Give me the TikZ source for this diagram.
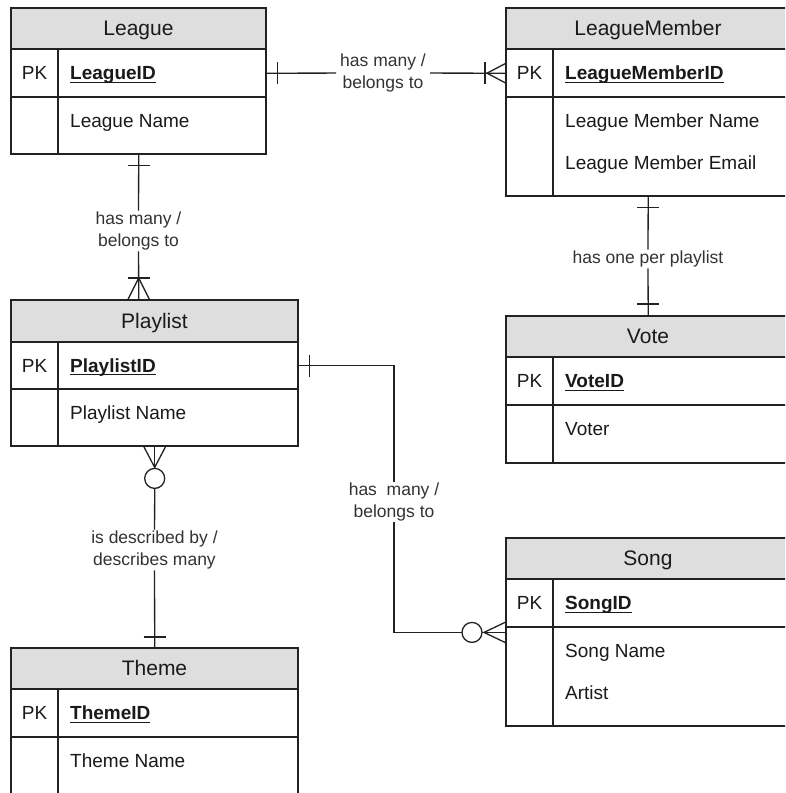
\documentclass[tikz,border=0pt]{standalone}
\usepackage{fontspec}
\setmainfont{Liberation Sans}
\definecolor{hdrgray}{HTML}{DEDEDE}
\definecolor{linec}{HTML}{222222}
\definecolor{txtc}{HTML}{1A1A1A}
\definecolor{lblc}{HTML}{333333}
\tikzset{
  ent/.style={draw=linec, line width=1.5pt},
  conn/.style={draw=linec, line width=1.3pt},
  hdrtxt/.style={font=\fontsize{21}{24}\selectfont, text=txtc, inner sep=0pt, anchor=base},
  bodytxt/.style={font=\fontsize{19}{22}\selectfont, text=txtc, inner sep=0pt},
  lbl/.style={font=\fontsize{17.5}{22}\selectfont, text=lblc, align=center, inner xsep=4pt, inner ysep=1pt},
  area/.style={inner sep=0pt, anchor=north west},
}
\newcommand{\uid}[1]{\setbox0\hbox{\bfseries #1}\rlap{\color{txtc}\rule[-3pt]{\wd0}{1.2pt}}\box0}
% name, x1, y1, x2, y header bottom, y pk bottom, y bottom, title, pk id
\newcommand{\erent}[9]{%
  \fill[hdrgray] (#2,#3) rectangle (#4,#5);
  \draw[ent] (#2,#3) rectangle (#4,#7);
  \draw[ent] (#2,#5) -- (#4,#5) (#2,#6) -- (#4,#6) ({#2+47},#5) -- ({#2+47},#7);
  \node[area, minimum width={#4-#2}, minimum height={#7-#3}] (#1) at (#2,#3) {};
  \node[area, minimum width={#4-#2}, minimum height={#6-#5}] (#1-pk) at (#2,#5) {};
  \node[hdrtxt] (#1-t) at ({(#2+#4)/2},{(#3+#5)/2+7.3}) {#8};
  \node[bodytxt, anchor=base] (#1-pkl) at ({#2+23.5},{(#5+#6)/2+6.8}) {PK};
  \node[bodytxt, anchor=base west] (#1-id) at ({#2+59},{(#5+#6)/2+6.8}) {\uid{#9}};
}
\newcommand{\erattr}[4]{\node[bodytxt, anchor=base west] (#1) at ({#2+59},#3) {#4};}
\begin{document}
\begin{tikzpicture}[x=1pt,y=-1pt]
\useasboundingbox (0,0) rectangle (785,793);
\fill[white] (0,0) rectangle (785,793);
\clip (0,0) rectangle (785,793);

% entities
\erent{league}{11}{8}{266}{49}{97}{154}{League}{LeagueID}
\erattr{league-a1}{11}{127}{League Name}

\erent{lm}{506}{8}{790}{49}{97}{196}{LeagueMember}{LeagueMemberID}
\erattr{lm-a1}{506}{127}{League Member Name}
\erattr{lm-a2}{506}{169}{League Member Email}

\erent{playlist}{11}{300}{298}{342}{389}{446}{Playlist}{PlaylistID}
\erattr{playlist-a1}{11}{419}{Playlist Name}

\erent{vote}{506}{316}{790}{357}{405}{463}{Vote}{VoteID}
\erattr{vote-a1}{506}{435}{Voter}

\erent{song}{506}{538}{790}{579}{627}{726}{Song}{SongID}
\erattr{song-a1}{506}{657}{Song Name}
\erattr{song-a2}{506}{699}{Artist}

\erent{theme}{11}{648}{298}{689}{737}{810}{Theme}{ThemeID}
\erattr{theme-a1}{11}{767}{Theme Name}

% League -- LeagueMember
\node[lbl] (l1) at (383,73) {has many /\\belongs to};
\draw[conn] (league-pk.east) -- (l1);
\draw[conn] (l1) -- (lm-pk.west);
\draw[conn] ([xshift=11pt]league-pk.east) ++(0,-11) -- ++(0,22);
\draw[conn] ([xshift=-21pt]lm-pk.west) ++(0,-11) -- ++(0,22);
\draw[conn] ([yshift=10pt]lm-pk.west) -- ([xshift=-19pt]lm-pk.west) -- ([yshift=-10pt]lm-pk.west);

% League -- Playlist
\coordinate (pl-top) at (league.south |- playlist.north);
\node[lbl] (l2) at (138.5,231) {has many /\\belongs to};
\draw[conn] (league.south) -- (l2);
\draw[conn] (l2) -- (pl-top);
\draw[conn] ([yshift=-11pt]league.south) ++(-11,0) -- ++(22,0);
\draw[conn] ([yshift=22pt]pl-top) ++(-11,0) -- ++(22,0);
\draw[conn] ([xshift=-11pt]pl-top) -- ([yshift=22pt]pl-top) -- ([xshift=11pt]pl-top);

% LeagueMember -- Vote
\node[lbl] (l3) at (648,259) {has one per playlist};
\draw[conn] (lm.south) -- (l3);
\draw[conn] (l3) -- (vote.north);
\draw[conn] ([yshift=-11pt]lm.south) ++(-11,0) -- ++(22,0);
\draw[conn] ([yshift=12pt]vote.north) ++(-11,0) -- ++(22,0);

% Playlist -- Song
\coordinate (sg-in) at ([yshift=-5pt]song-pk.south west);
\node[lbl] (l4) at (394,502) {has\ \ many /\\belongs to};
\draw[conn] (playlist-pk.east) -| (l4);
\draw[conn] (l4) |- ([xshift=-44pt]sg-in);
\draw[conn] ([xshift=-24pt]sg-in) -- (sg-in);
\draw[conn] ([xshift=-34pt]sg-in) circle[radius=10pt];
\draw[conn] ([yshift=10.5pt]sg-in) -- ([xshift=-22pt]sg-in) -- ([yshift=-10.5pt]sg-in);
\draw[conn] ([xshift=11pt]playlist-pk.east) ++(0,-11) -- ++(0,22);

% Playlist -- Theme
\node[lbl] (l5) at (154.5,550) {is described by /\\describes many};
\draw[conn] (playlist.south) -- ([yshift=-22pt]playlist.south);
\draw[conn] ([xshift=-11pt]playlist.south) -- ([yshift=-21pt]playlist.south) -- ([xshift=11pt]playlist.south);
\draw[conn] ([yshift=-32pt]playlist.south) circle[radius=10pt];
\draw[conn] ([yshift=-42pt]playlist.south) -- (l5);
\draw[conn] (l5) -- (theme.north);
\draw[conn] ([yshift=11pt]theme.north) ++(-11,0) -- ++(22,0);
\end{tikzpicture}
\end{document}
